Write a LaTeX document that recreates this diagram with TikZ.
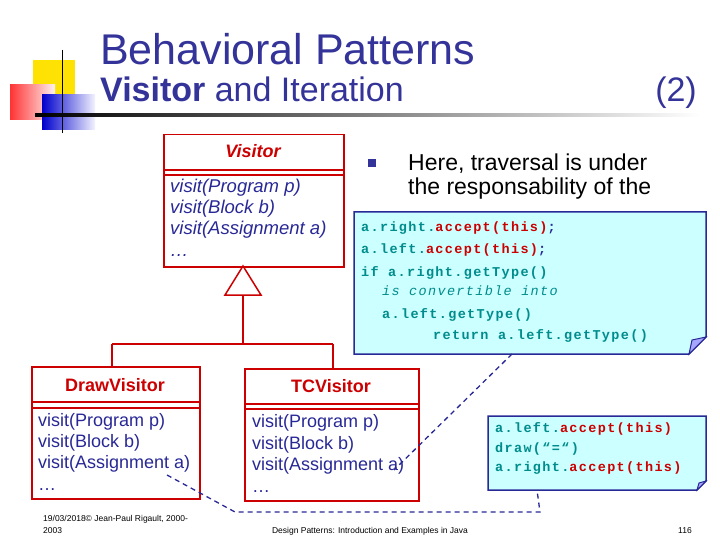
\documentclass[tikz,border=0pt]{standalone}
\usepackage{fontspec}
\setmainfont{Liberation Sans}
\setmonofont{Liberation Mono}
\newfontfamily\codefont[LetterSpace=10]{Liberation Mono}
\definecolor{ttl}{RGB}{51,51,153}
\definecolor{umlred}{RGB}{204,0,0}
\definecolor{notefill}{RGB}{204,255,255}
\definecolor{teal}{RGB}{0,140,140}
\definecolor{navy}{RGB}{40,40,150}
\begin{document}
\begin{tikzpicture}[x=1pt,y=-1pt,
  cls/.style={draw=umlred,line width=1.5pt,anchor=north west,inner sep=0pt},
  note/.style={draw=navy,fill=notefill,line width=1.5pt},
  conn/.style={draw=umlred,line width=1.5pt},
  dashconn/.style={draw=navy,line width=1.3pt,dash pattern=on 5pt off 4pt},
  mtxt/.style={anchor=base west,inner sep=0pt,font=\fontsize{18}{18}\selectfont},
  vtxt/.style={anchor=base west,inner sep=0pt,text=navy,font=\itshape\fontsize{18.5}{18.5}\selectfont},
  ctxt/.style={anchor=base west,inner sep=0pt,font=\codefont\bfseries\fontsize{13.5}{13.5}\selectfont}]
\useasboundingbox (0,0) rectangle (720,540);
% decoration
\fill[yellow!85!orange] (33,60) rectangle (75,105);
\shade[left color=red!80,right color=red!5] (10,85) rectangle (55,120);
\shade[left color=blue!80!black,right color=blue!5] (42,95) rectangle (95,130);
\draw[line width=1pt] (62,50) -- (62,133);
\shade[left color=black,right color=white] (35,114) rectangle (700,116.5);
% title
\node[anchor=base west,inner sep=0pt,text=ttl,font=\fontsize{43}{43}\selectfont] (t1) at (100,65) {Behavioral Patterns};
\node[anchor=base west,inner sep=0pt,text=ttl,font=\fontsize{34}{34}\selectfont] (t2) at (100,102) {\textbf{Visitor} and Iteration};
\node[anchor=base east,inner sep=0pt,text=ttl,font=\fontsize{34}{34}\selectfont] (t3) at (697,102) {(2)};
% Visitor class
\node[cls,minimum width=180pt,minimum height=132pt] (V) at (163,134) {};
\draw[umlred,line width=1.5pt] (163,170)--(343,170) (163,175)--(343,175);
\node[anchor=base,inner sep=0pt,text=umlred,font=\bfseries\itshape\fontsize{18}{18}\selectfont] (Vn) at (253,158) {Visitor};
\node[vtxt] (v1) at (170,193) {visit(Program p)};
\node[vtxt] (v2) at (170,214) {visit(Block b)};
\node[vtxt] (v3) at (170,235) {visit(Assignment a)};
\node[vtxt] (v4) at (170,256) {\dots};
% inheritance
\coordinate (apex) at (243,266);
\draw[conn,fill=white] (apex) -- (261,295) -- (225,295) -- cycle;
\coordinate (tb) at (243,295);
\coordinate (jn) at (243,344);
% DrawVisitor
\node[cls,minimum width=168pt,minimum height=132pt] (D) at (31,366) {};
\draw[umlred,line width=1.5pt] (31,402)--(199,402) (31,408)--(199,408);
\node[anchor=base,inner sep=0pt,text=umlred,font=\bfseries\fontsize{18}{18}\selectfont] (Dn) at (115,391) {DrawVisitor};
\node[mtxt,text=navy] (d1) at (38,426) {visit(Program p)};
\node[mtxt,text=navy] (d2) at (38,447) {visit(Block b)};
\node[mtxt,text=navy] (d3) at (38,468) {visit(Assignment a)};
\node[mtxt,text=navy] (d4) at (38,490) {\dots};
% TCVisitor
\node[cls,minimum width=174pt,minimum height=132pt] (T) at (244,368) {};
\draw[umlred,line width=1.5pt] (244,404)--(418,404) (244,409)--(418,409);
\node[anchor=base,inner sep=0pt,text=umlred,font=\bfseries\fontsize{18}{18}\selectfont] (Tn) at (331,392) {TCVisitor};
\node[mtxt,text=navy] (e1) at (252,427) {visit(Program p)};
\node[mtxt,text=navy] (e2) at (252,449) {visit(Block b)};
\node[mtxt,text=navy] (e3) at (252,470) {visit(Assignment a)};
\node[mtxt,text=navy] (e4) at (252,492) {\dots};
\draw[conn] (tb) -- (jn) (112,344) -- (333,344);
\draw[conn] (112,344) -- (112,366);
\draw[conn] (333,344) -- (333,368);
% bullet text
\fill[ttl] (368,159) rectangle (376,167);
\node[anchor=base west,inner sep=0pt,font=\fontsize{23}{23}\selectfont] (b1) at (408,171) {Here, traversal is under};
\node[anchor=base west,inner sep=0pt,font=\fontsize{23}{23}\selectfont] (b2) at (408,195) {the responsability of the};
% note 1
\path[note] (354,212) -- (706,212) -- (706,337) -- (689,354) -- (354,354) -- cycle;
\path[draw=navy,fill=blue!35,line width=1pt] (706,337) -- (689,354) -- (692,340) -- cycle;
\coordinate (N1) at (512,354);
\node[ctxt] (c1) at (361,232) {\color{teal}a.right.\color{umlred}accept(this)\color{navy};};
\node[ctxt] (c2) at (361,254) {\color{teal}a.left.\color{umlred}accept(this)\color{navy};};
\node[ctxt] (c3) at (361,276) {\color{teal}if a.right.getType()};
\node[ctxt,font=\codefont\itshape\fontsize{13.5}{13.5}\selectfont] (c4) at (382,295) {\color{teal}is convertible into};
\node[ctxt] (c5) at (382,318) {\color{teal}a.left.getType()};
\node[ctxt] (c6) at (433,339) {\color{teal}return a.left.getType()};
% note 2
\path[note] (488,416) -- (706,416) -- (706,481) -- (697,490) -- (488,490) -- cycle;
\path[draw=navy,fill=blue!35,line width=1pt] (706,481) -- (697,490) -- (699,483) -- cycle;
\coordinate (N2) at (537,490);
\node[ctxt] (f1) at (495,432) {\color{teal}a.left.\color{umlred}accept(this)};
\node[ctxt] (f2) at (495,452) {\color{teal}draw(“=“)};
\node[ctxt] (f3) at (495,471) {\color{teal}a.right.\color{umlred}accept(this)};
% dashed connectors
\coordinate (Ta) at (394,470);
\coordinate (Da) at (167,475);
\draw[dashconn] (N1) -- (Ta);
\draw[dashconn] (Da) -- (235,512) -- (540,512) -- (N2);
% footer
\node[anchor=base west,inner sep=0pt,font=\fontsize{8.5}{8.5}\selectfont] (ft1) at (43,521) {19/03/2018© Jean-Paul Rigault, 2000-};
\node[anchor=base west,inner sep=0pt,font=\fontsize{8.5}{8.5}\selectfont] (ft2) at (43,533) {2003};
\node[anchor=base,inner sep=0pt,font=\fontsize{8.5}{8.5}\selectfont] (ft3) at (370,533) {Design Patterns: Introduction and Examples in Java};
\node[anchor=base,inner sep=0pt,font=\fontsize{8.5}{8.5}\selectfont] (ft4) at (685,533) {116};
\end{tikzpicture}
\end{document}
